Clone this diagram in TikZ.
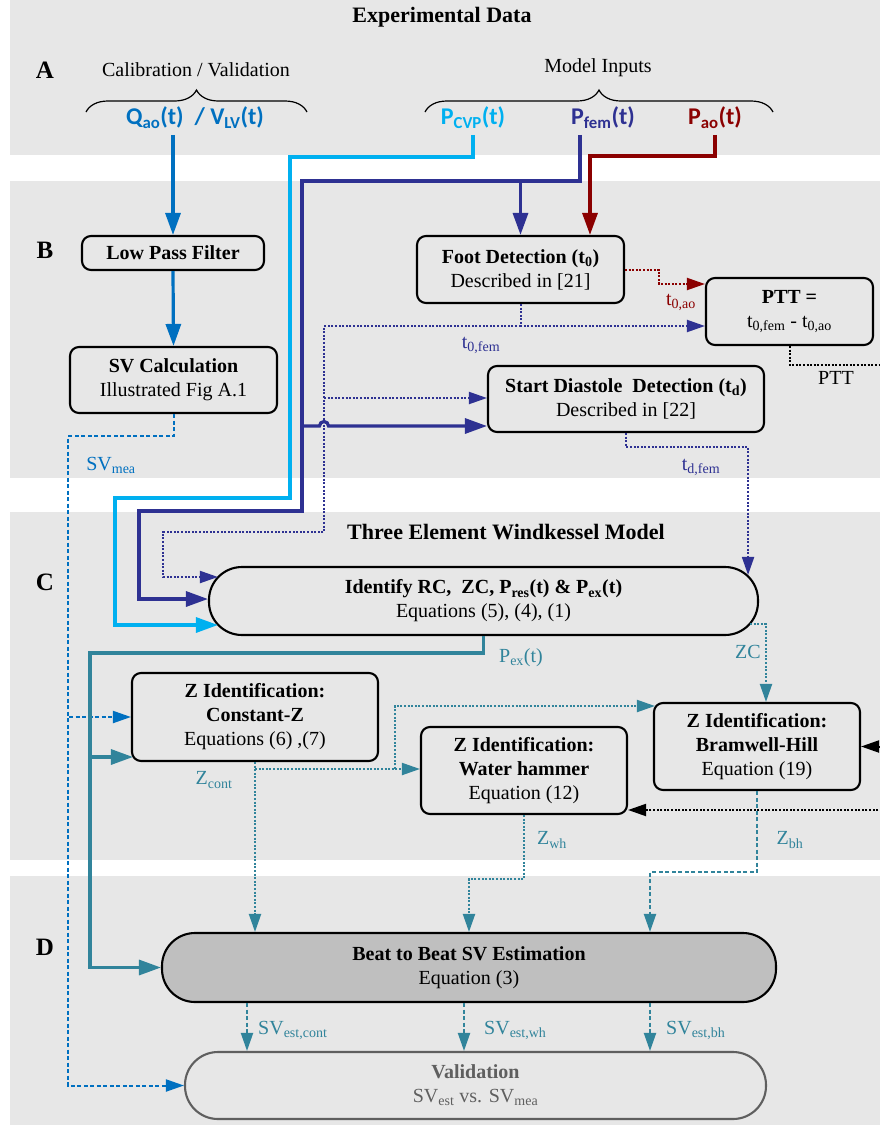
\documentclass[tikz,border=0pt]{standalone}
\usepackage{fontspec}
\setmainfont{Liberation Serif}
\newfontfamily\sigfont{Carlito}
\usepackage{tikz}
\usetikzlibrary{positioning,arrows.meta,calc,decorations.pathreplacing}
\usepackage{xcolor}
\definecolor{panelgray}{HTML}{E7E7E7}
\definecolor{qblue}{HTML}{0070C0}
\definecolor{cvpblue}{HTML}{00B0F0}
\definecolor{femblue}{HTML}{2E3192}
\definecolor{aored}{HTML}{8B0000}
\definecolor{tealz}{HTML}{31849B}
\definecolor{beatgray}{HTML}{BFBFBF}
\definecolor{validgray}{HTML}{5F5F5F}

\begin{document}
\begin{tikzpicture}[x=1pt, y=-1pt,
        box/.style={draw, line width=2.1pt, rounded corners=9pt, fill=panelgray, align=center, inner sep=0pt, font=\fontsize{20}{24}\selectfont},
        pill/.style={box, rounded corners=33pt},
        lbl/.style={font=\fontsize{20}{24}\selectfont, inner sep=0pt},
        sig/.style={font=\sigfont\bfseries\fontsize{24}{28}\selectfont, inner sep=0pt, outer sep=6pt},
        labfont/.style={font=\bfseries\fontsize{25}{30}\selectfont},
        head/.style={font=\bfseries\fontsize{22}{26}\selectfont},
        wire/.style={line width=3.2pt, -{Triangle[length=22pt,width=15pt]}},
        dots/.style={line width=2pt, dash pattern=on 2pt off 1.6pt, -{Triangle[length=18pt,width=12pt]}},
        dashy/.style={line width=2pt, dash pattern=on 4pt off 2.5pt, -{Triangle[length=18pt,width=12pt]}}]
        \useasboundingbox (0,0) rectangle (880,1125);
        \clip (0,0) rectangle (880,1125);

        % Panel A: experimental data
        \fill[panelgray] (10,0) rectangle (880,155);
        \node[head] (title) at (442,17) {Experimental Data};
        \node[labfont] (labA) at (45,70) {A};
        \node[lbl] (calib) at (196,70) {Calibration / Validation};
        \node[lbl] (inputs) at (598,68) {Model Inputs};
        \draw[line width=1.2pt, decorate, decoration={brace, amplitude=22pt}] (86,112) -- (307,112);
        \draw[line width=1.2pt, decorate, decoration={brace, amplitude=22pt}] (425,112) -- (773,112);
        \node[sig, text=qblue] (qsig) at (195,118) {Q\textsubscript{ao}(t)~ / V\textsubscript{LV}(t)};
        \node[sig, text=cvpblue] (pcvp) at (473,118) {P\textsubscript{CVP}(t)};
        \node[sig, text=femblue] (pfem) at (603,118) {P\textsubscript{fem}(t)};
        \node[sig, text=aored] (pao) at (715,118) {P\textsubscript{ao}(t)};

        % Panel B: pre-processing
        \fill[panelgray] (10,181) rectangle (880,478);
        \node[labfont] (labB) at (45,250) {B};
        \node[box, minimum width=182pt, minimum height=34pt] (lpf) at (173,253) {\textbf{Low Pass Filter}};
        \node[box, minimum width=207pt, minimum height=66pt] (svcalc) at (173.5,380) {\textbf{SV Calculation}\\Illustrated Fig A.1};
        \node[box, minimum width=207pt, minimum height=67pt] (foot) at (520.5,269.5) {\textbf{Foot Detection (t\textsubscript{0})}\\Described in [21]};
        \node[box, minimum width=167pt, minimum height=67pt] (ptt) at (789.5,311.5) {\textbf{PTT =}\\t\textsubscript{0,fem} - t\textsubscript{0,ao}};
        \node[box, minimum width=276pt, minimum height=66pt] (diast) at (626,399) {\textbf{Start Diastole\ \ Detection (t\textsubscript{d})}\\Described in [22]};

        % Panel C: windkessel model
        \fill[panelgray] (10,512) rectangle (880,860);
        \node[head] (wkm) at (506,532) {Three Element Windkessel Model};
        \node[labfont] (labC) at (45,582) {C};
        \node[pill, minimum width=549pt, minimum height=68pt] (ident) at (483.5,601) {\textbf{Identify RC,\ \ ZC, P\textsubscript{res}(t) \& P\textsubscript{ex}(t)}\\Equations (5), (4), (1)};
        \node[box, minimum width=246pt, minimum height=88pt] (constz) at (255,717) {\textbf{Z Identification:}\\\textbf{Constant-Z}\\Equations (6) ,(7)};
        \node[box, minimum width=206pt, minimum height=87pt] (wh) at (524,770.5) {\textbf{Z Identification:}\\\textbf{Water hammer}\\Equation (12)};
        \node[box, minimum width=206pt, minimum height=87pt] (bh) at (757,746.5) {\textbf{Z Identification:}\\\textbf{Bramwell-Hill}\\Equation (19)};

        % Panel D: estimation and validation
        \fill[panelgray] (10,876) rectangle (880,1125);
        \node[labfont] (labD) at (45,947) {D};
        \node[pill, fill=beatgray, minimum width=614pt, minimum height=69pt] (beat) at (469,967.5) {\textbf{Beat to Beat SV Estimation}\\Equation (3)};
        \node[pill, draw=validgray, text=validgray, minimum width=581pt, minimum height=67pt] (valid) at (475.5,1085.5) {\textbf{Validation}\\SV\textsubscript{est} vs. SV\textsubscript{mea}};

        % signal lines
        \coordinate (aoin) at ($(foot.north)+(69.5,0)$);
        \draw[wire, qblue] (qsig.south -| lpf.north) -- (lpf.north);
        \draw[wire, qblue] (lpf.south) -- (svcalc.north);
        \draw[wire, cvpblue] (pcvp.south) |- (290,157) |- (115,498) |- ([shift={(10,24)}]ident.west);
        \draw[wire, femblue] ([xshift=-23pt]pfem.south) |- (302,181) |- (139,511) |- ([shift={(0,-2)}]ident.west);
        \draw[wire, femblue] (foot.north |- 0,181) -- (foot.north);
        \draw[wire, femblue] (302,426) -- (319.5,426) arc (180:360:4.5) -- (diast.west |- 0,426);
        \draw[wire, aored] (pao.south) |- (aoin |- 0,156) -- (aoin);

        % detection outputs
        \draw[dots, aored] (foot.east) -| (659,284) -- (ptt.west |- 0,284);
        \node[lbl, text=aored] (t0ao) at (681,302) {t\textsubscript{0,ao}};
        \coordinate (femdrop) at (foot.south |- 0,326);
        \draw[dots, femblue] (foot.south) -- (femdrop) -- (ptt.west |- femdrop);
        \draw[dots, femblue] (femdrop) -| (324,532) -| (163,577) -- ([shift={(10,-24)}]ident.west);
        \draw[dots, femblue] (324,398) -- (diast.west |- 0,398);
        \node[lbl, text=femblue] (t0fem) at (481,345) {t\textsubscript{0,fem}};
        \draw[dots, femblue] (diast.south) -- ++(0,14) -| ([shift={(-11,9)}]ident.north east);
        \node[lbl, text=femblue] (tdfem) at (701,467) {t\textsubscript{d,fem}};
        \draw[dots, black] (ptt.south) -- ++(0,19) -| ([xshift=40pt]bh.east) -- (bh.east);
        \draw[dots, black] ([xshift=40pt]bh.east) |- (wh.east |- 0,810);
        \node[lbl] (pttlbl) at (836,378) {PTT};
        \draw[dashy, qblue] (svcalc.south) -- ++(0,22) -| ([xshift=-116pt]valid.west) -- (valid.west);
        \draw[dashy, qblue] (69,717) -- (constz.west);
        \node[lbl, text=qblue] (svmea) at (111,465) {SV\textsubscript{mea}};

        % model outputs
        \draw[wire, tealz] (ident.south) -- ++(0,17) -| ([xshift=-71pt]beat.west) -- (beat.west);
        \draw[wire, tealz] (91,757) -- ([shift={(2,40)}]constz.west);
        \node[lbl, text=tealz] (pex) at (521,658) {P\textsubscript{ex}(t)};
        \draw[dots, tealz] ([shift={(-9,23)}]ident.east) -| ([xshift=9pt]bh.north);
        \node[lbl, text=tealz] (zc) at (748,652) {ZC};
        \draw[dots, tealz] (constz.south) -- (beat.north -| constz.south);
        \draw[dots, tealz] (constz.south |- 0,769) -- (wh.west |- 0,769);
        \draw[dots, tealz] (395,769) |- ([shift={(2,-40.5)}]bh.west);
        \node[lbl, text=tealz] (zcont) at (214,780) {Z\textsubscript{cont}};
        \draw[dots, tealz] (wh.south) -- ++(0,64) -| (beat.north);
        \node[lbl, text=tealz] (zwh) at (552,840) {Z\textsubscript{wh}};
        \draw[dashy, tealz] (bh.south) -- ++(0,81) -| ([xshift=181pt]beat.north);
        \node[lbl, text=tealz] (zbh) at (790,840) {Z\textsubscript{bh}};

        % estimates to validation
        \draw[dashy, tealz] ([xshift=-222pt]beat.south) -- ([xshift=-228.5pt]valid.north);
        \draw[dashy, tealz] ([xshift=-5pt]beat.south) -- ([xshift=-11.5pt]valid.north);
        \draw[dashy, tealz] ([xshift=181pt]beat.south) -- ([xshift=174.5pt]valid.north);
        \node[lbl, text=tealz, anchor=west] (svcont) at (258,1030) {SV\textsubscript{est,cont}};
        \node[lbl, text=tealz, anchor=west] (svwh) at (484,1030) {SV\textsubscript{est,wh}};
        \node[lbl, text=tealz, anchor=west] (svbh) at (666,1030) {SV\textsubscript{est,bh}};
\end{tikzpicture}
\end{document}
